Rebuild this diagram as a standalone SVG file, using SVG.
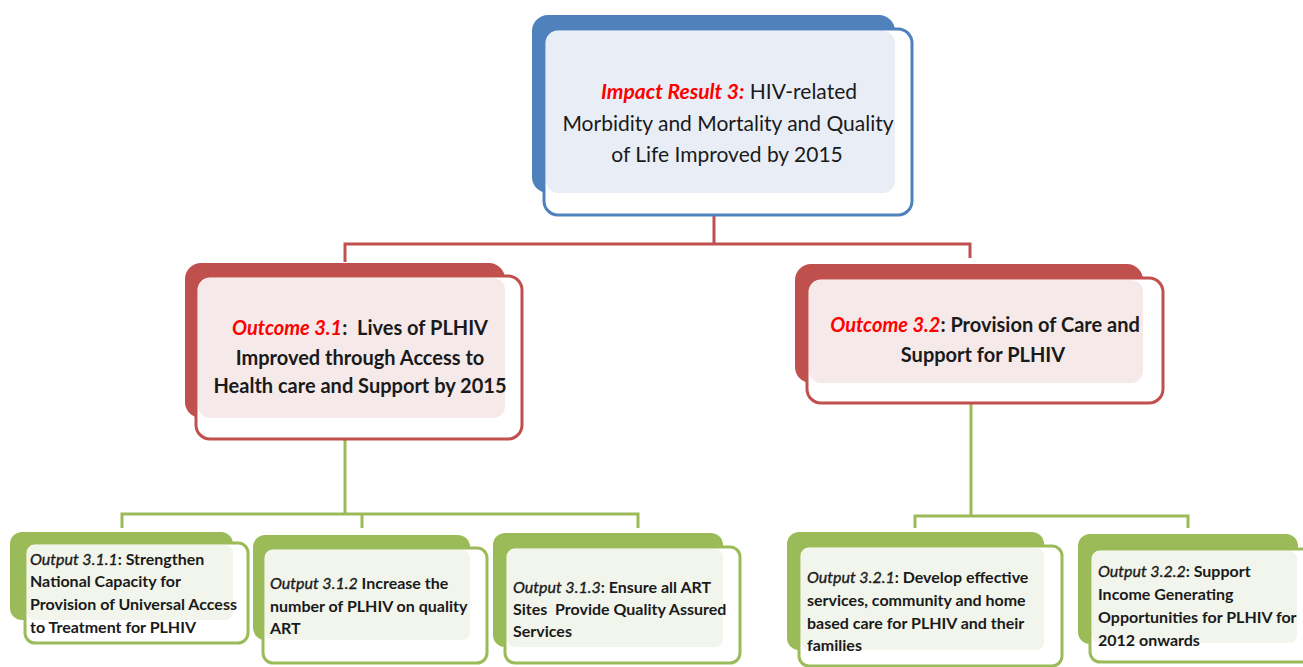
<svg xmlns="http://www.w3.org/2000/svg" width="1303" height="667" viewBox="0 0 1303 667">
<style>
text{font-family:Lato,"Liberation Sans",sans-serif;fill:#1a1a1a}
.t{font-size:21px}
.o{font-size:20px;font-weight:bold}
.p{font-size:16px;font-weight:bold}
.r{fill:#ff0000;font-style:italic;font-weight:bold}
.i{font-style:italic;font-weight:normal;stroke:#1a1a1a;stroke-width:0.35}
.bb{fill:#4f81bd}.bf{fill:#fff;stroke:#4f81bd;stroke-width:3}.bt{fill:#e9eef6}
.rb{fill:#c0504d}.rf{fill:#fff;stroke:#c0504d;stroke-width:3}.rt{fill:#f5e9e9}
.gb{fill:#9bbb59}.gf{fill:#fff;stroke:#9bbb59;stroke-width:3}.gt{fill:#f2f5ec}
.cr{fill:none;stroke:#c0504d;stroke-width:3}
.cg{fill:none;stroke:#9bbb59;stroke-width:3}
</style>
<rect width="1303" height="667" fill="#fff"/>
<g id="connectors">
<path class="cr" d="M714 215V244M345 262V244H970V258"/>
<path class="cg" d="M345 439V514M122 528V514H638V528M362 514V528"/>
<path class="cg" d="M971 403V516M915 528V516H1188V528"/>
</g>
<g id="impact">
<rect class="bb" x="532" y="15" width="363" height="178" rx="16"/>
<rect class="bf" x="544" y="29" width="368" height="186" rx="14"/>
<rect class="bt" x="546" y="31" width="349" height="162" rx="12"/>
<text class="t" text-anchor="middle" x="729" y="99"><tspan class="r">Impact Result 3:</tspan> HIV-related</text>
<text class="t" text-anchor="middle" x="728" y="131">Morbidity and Mortality and Quality</text>
<text class="t" text-anchor="middle" x="727" y="162">of Life Improved by 2015</text>
</g>
<g id="outcome31">
<rect class="rb" x="185" y="263" width="320" height="155" rx="16"/>
<rect class="rf" x="196" y="276" width="326" height="163" rx="14"/>
<rect class="rt" x="198" y="278" width="307" height="140" rx="12"/>
<text class="o" text-anchor="middle" x="360" y="335" xml:space="preserve"><tspan class="r" font-weight="normal">Outcome 3.1</tspan>:  Lives of PLHIV</text>
<text class="o" text-anchor="middle" x="360" y="365">Improved through Access to</text>
<text class="o" text-anchor="middle" x="360" y="393">Health care and Support by 2015</text>
</g>
<g id="outcome32">
<rect class="rb" x="795" y="264" width="348" height="119" rx="16"/>
<rect class="rf" x="807" y="278" width="356" height="125" rx="14"/>
<rect class="rt" x="809" y="280" width="334" height="103" rx="12"/>
<text class="o" text-anchor="middle" x="985" y="332"><tspan class="r" font-weight="normal">Outcome 3.2</tspan>: Provision of Care and</text>
<text class="o" text-anchor="middle" x="983" y="362">Support for PLHIV</text>
</g>
<g id="output311">
<rect class="gb" x="10" y="532" width="223" height="88" rx="12"/>
<rect class="gf" x="25" y="543" width="223" height="100" rx="10"/>
<rect class="gt" x="27" y="545" width="206" height="75" rx="8"/>
<text class="p" x="30" y="565"><tspan class="i">Output 3.1.1</tspan>: Strengthen</text>
<text class="p" x="30" y="587">National Capacity for</text>
<text class="p" x="30" y="610">Provision of Universal Access</text>
<text class="p" x="30" y="633">to Treatment for PLHIV</text>
</g>
<g id="output312">
<rect class="gb" x="253" y="535" width="217" height="105" rx="12"/>
<rect class="gf" x="263" y="548" width="224" height="115" rx="10"/>
<rect class="gt" x="265" y="550" width="205" height="90" rx="8"/>
<text class="p" x="270" y="589"><tspan class="i">Output 3.1.2</tspan> Increase the</text>
<text class="p" x="270" y="612">number of PLHIV on quality</text>
<text class="p" x="270" y="634">ART</text>
</g>
<g id="output313">
<rect class="gb" x="493" y="533" width="230" height="114" rx="12"/>
<rect class="gf" x="505" y="547" width="235" height="116" rx="10"/>
<rect class="gt" x="507" y="549" width="216" height="98" rx="8"/>
<text class="p" x="513" y="593"><tspan class="i">Output 3.1.3</tspan>: Ensure all ART</text>
<text class="p" x="513" y="615" xml:space="preserve">Sites  Provide Quality Assured</text>
<text class="p" x="513" y="637">Services</text>
</g>
<g id="output321">
<rect class="gb" x="787" y="532" width="257" height="118" rx="12"/>
<rect class="gf" x="799" y="546" width="263" height="120" rx="10"/>
<rect class="gt" x="801" y="548" width="243" height="102" rx="8"/>
<text class="p" x="807" y="583"><tspan class="i">Output 3.2.1</tspan>: Develop effective</text>
<text class="p" x="807" y="606">services, community and home</text>
<text class="p" x="807" y="629">based care for PLHIV and their</text>
<text class="p" x="807" y="651">families</text>
</g>
<g id="output322">
<rect class="gb" x="1078" y="534" width="220" height="110" rx="12"/>
<rect class="gf" x="1090" y="549" width="230" height="113" rx="10"/>
<rect class="gt" x="1092" y="551" width="205" height="92" rx="8"/>
<text class="p" x="1098" y="577"><tspan class="i">Output 3.2.2</tspan>: Support</text>
<text class="p" x="1098" y="600">Income Generating</text>
<text class="p" x="1098" y="623">Opportunities for PLHIV for</text>
<text class="p" x="1098" y="646">2012 onwards</text>
</g>
</svg>
